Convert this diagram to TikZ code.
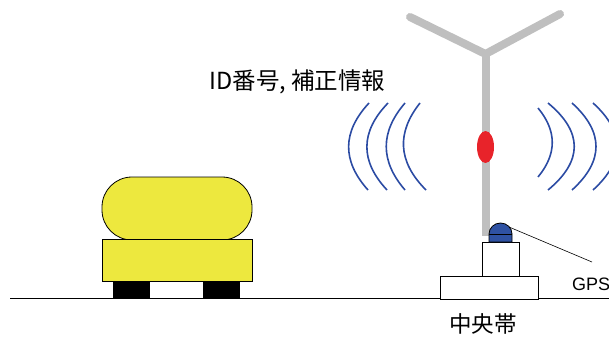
\documentclass[tikz,border=0pt]{standalone}
\usepackage{fontspec}
\usetikzlibrary{shapes.geometric}
\setmainfont{Liberation Sans}
\newfontfamily\jpfont{Noto Sans CJK JP}
\definecolor{polegray}{HTML}{BFBFBF}
\definecolor{wavecol}{HTML}{2B4BA3}
\definecolor{lampred}{HTML}{E8232A}
\definecolor{carfill}{HTML}{EDE83E}
\definecolor{domefill}{HTML}{2F52A3}
\begin{document}
\begin{tikzpicture}[x=1pt,y=-1pt,
  pole/.style={draw=polegray, line width=8pt, line cap=round, line join=round},
  wave/.style={draw=wavecol, line width=1.6pt},
  outline/.style={draw=black, line width=0.8pt},
  boxw/.style={outline, fill=white, rectangle, inner sep=0pt},
  jplabel/.style={font=\jpfont\fontsize{22.5}{26}\selectfont, inner sep=0pt},
  gpslabel/.style={font=\fontsize{18}{21}\selectfont, inner sep=0pt}]
\useasboundingbox (0,0) rectangle (609,340);

% road surface
\coordinate (roadL) at (10,298.5);
\coordinate (roadR) at (609,298.5);
\draw[line width=1.5pt] (roadL) -- (roadR);

% antenna pole with its two arms
\coordinate (hub) at (485.5,54);
\coordinate (armL) at (410,17);
\coordinate (armR) at (560,14);
\coordinate (foot) at (485.5,236);
\draw[pole] (armL) -- (hub) -- (armR);
\draw[pole, line cap=butt] (hub) -- (foot);

% beacon lamp
\node[ellipse, fill=lampred, minimum width=17, minimum height=32, inner sep=0pt] (lamp) at (485.5,147) {};

% radio waves, left side
\draw[wave] (369,103) .. controls (342,132) and (342,161) .. (368,190);
\draw[wave] (388,103) .. controls (360,132) and (360,161) .. (387,190);
\draw[wave] (405,103) .. controls (380,132) and (380,161) .. (405,190);
\draw[wave] (420,103) .. controls (397,132) and (397,161) .. (426,190);
% radio waves, right side
\draw[wave] (538,108) .. controls (557,131) and (557,154) .. (538,177);
\draw[wave] (548,103) .. controls (583,132) and (583,161) .. (548,190);
\draw[wave] (572,103) .. controls (604,132) and (604,161) .. (572,190);
\draw[wave] (593,103) .. controls (625,132) and (625,161) .. (593,190);

% median strip mounting
\node[boxw, minimum width=98, minimum height=23] (base) at (489,287.5) {};
\node[boxw, minimum width=37, minimum height=34] (mount) at (500.5,259) {};

% GPS receiver dome
\draw[outline, fill=domefill] (489,242) -- (489,234)
  arc[start angle=180, end angle=360, x radius=11.5, y radius=11] -- (512,242) -- cycle;
\draw[line width=0.8pt] (489,234) -- (512,234);
\coordinate (dome) at (509,227);
\coordinate (gpstip) at (592,262);
\draw[line width=0.6pt] (dome) -- (gpstip);

% vehicle
\draw[outline, fill=carfill, rounded corners=30] (102,177) rectangle (252,240);
\draw[outline, fill=carfill] (102,239) rectangle (252,281);
\fill[black] (113,281.5) rectangle (150,298);
\fill[black] (203,281.5) rectangle (240,298);

% labels
\node[jplabel, font=\jpfont\fontsize{23.5}{27}\selectfont] (info) at (297.5,82) {ID番号, 補正情報};
\node[jplabel] (median) at (483,324) {中央帯};
\node[gpslabel, anchor=base west] (gps) at (572,290) {GPS};
\end{tikzpicture}
\end{document}
